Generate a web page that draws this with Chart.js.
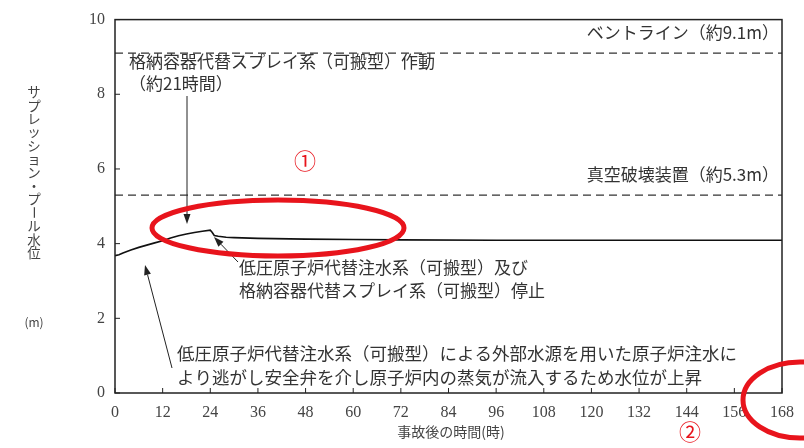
<!DOCTYPE html>
<html>
<head>
<meta charset="utf-8">
<script src="https://cdn.jsdelivr.net/npm/chart.js@4.4.1/dist/chart.umd.min.js"></script>
<style>
  html, body { margin: 0; padding: 0; background: #fff; }
  #wrap { width: 804px; height: 448px; }
</style>
</head>
<body>
<div id="wrap"><canvas id="myChart" width="804" height="448"></canvas></div>
<script>
// time after accident (h) and suppression pool level (m)
const hours = [0, 1, 2, 4, 6, 8, 10, 12, 14, 16, 18, 20, 22, 24, 24.5, 25, 26, 28, 30, 36, 48, 60, 72, 96, 120, 144, 168];
const poolLevel = [3.68, 3.70, 3.75, 3.83, 3.90, 3.96, 4.02, 4.08, 4.15, 4.21, 4.26, 4.30, 4.33, 4.36, 4.30, 4.22, 4.20, 4.17, 4.16, 4.14, 4.12, 4.11, 4.10, 4.09, 4.09, 4.09, 4.09];

// reference levels
const ventLine = 9.1;
const vacuumBreaker = 5.3;

const xTicks = [0, 12, 24, 36, 48, 60, 72, 84, 96, 108, 120, 132, 144, 156, 168];
const yTicks = [0, 2, 4, 6, 8, 10];

const jp = '"Noto Sans CJK JP", sans-serif';
const serif = "'Liberation Serif', 'DejaVu Serif', serif";
Chart.defaults.font.family = serif;

const arrow = (ctx, x1, y1, x2, y2) => {
    const a = Math.atan2(y2 - y1, x2 - x1);
    const len = 10, w = 3.5;
    ctx.beginPath();
    ctx.moveTo(x1, y1);
    ctx.lineTo(x2 - Math.cos(a) * len, y2 - Math.sin(a) * len);
    ctx.stroke();
    ctx.beginPath();
    ctx.moveTo(x2, y2);
    ctx.lineTo(x2 - Math.cos(a) * len - Math.sin(a) * w, y2 - Math.sin(a) * len + Math.cos(a) * w);
    ctx.lineTo(x2 - Math.cos(a) * len + Math.sin(a) * w, y2 - Math.sin(a) * len - Math.cos(a) * w);
    ctx.closePath();
    ctx.fill();
};

const decor = {
    id: 'decor',
    afterDraw: (chart) => {
        const ctx = chart.ctx;
        const a = chart.chartArea;
        const xs = chart.scales.x, ys = chart.scales.y;
        ctx.save();

        // frame and inward ticks
        ctx.strokeStyle = '#222';
        ctx.lineWidth = 1.5;
        ctx.strokeRect(a.left, a.top, a.right - a.left, a.bottom - a.top);
        ctx.lineWidth = 1;
        ctx.beginPath();
        xTicks.forEach(t => {
            const px = xs.getPixelForValue(t);
            ctx.moveTo(px, a.bottom); ctx.lineTo(px, a.bottom - 5);
        });
        yTicks.forEach(t => {
            const py = ys.getPixelForValue(t);
            ctx.moveTo(a.left, py); ctx.lineTo(a.left + 5, py);
        });
        ctx.stroke();

        // texts
        ctx.fillStyle = '#333';
        ctx.font = '17px ' + jp;
        ctx.textBaseline = 'middle';
        ctx.textAlign = 'right';
        ctx.fillText('ベントライン（約9.1m）', 779, 33);
        ctx.fillText('真空破壊装置（約5.3m）', 779, 175);
        ctx.textAlign = 'left';
        ctx.fillText('格納容器代替スプレイ系（可搬型）作動', 129, 62);
        ctx.fillText('（約21時間）', 129, 84);
        ctx.fillText('低圧原子炉代替注水系（可搬型）及び', 239, 268);
        ctx.fillText('格納容器代替スプレイ系（可搬型）停止', 239, 291);
        ctx.font = '17.5px ' + jp;
        ctx.fillText('低圧原子炉代替注水系（可搬型）による外部水源を用いた原子炉注水に', 177, 353);
        ctx.fillText('より逃がし安全弁を介し原子炉内の蒸気が流入するため水位が上昇', 177, 377);

        // axis titles
        ctx.font = '14px ' + jp;
        ctx.textAlign = 'center';
        ctx.fillStyle = '#444';
        ctx.fillText('事故後の時間(時)', 451, 432);
        const title = 'サプレッション・プール水位';
        ctx.font = '13.5px ' + jp;
        [...title].forEach((ch, i) => {
            const cy = 92 + i * 13.4;
            if (ch === 'ー') {
                ctx.save();
                ctx.translate(34, cy);
                ctx.rotate(Math.PI / 2);
                ctx.fillText(ch, 0, 0);
                ctx.restore();
            } else {
                ctx.fillText(ch, 34, cy);
            }
        });
        ctx.font = '12px ' + jp;
        ctx.fillText('(m)', 34, 322);

        // arrows
        ctx.strokeStyle = '#222';
        ctx.fillStyle = '#222';
        ctx.lineWidth = 1;
        arrow(ctx, 187, 96, 187, 224);
        arrow(ctx, 238, 262, 214, 237);
        arrow(ctx, 172, 368, 145, 265);

        // red marks
        ctx.strokeStyle = '#e8141c';
        ctx.lineWidth = 5;
        ctx.beginPath();
        ctx.ellipse(278, 228, 126, 28, 0, 0, Math.PI * 2);
        ctx.stroke();
        ctx.beginPath();
        ctx.ellipse(800, 400, 57, 38, 0, 0, Math.PI * 2);
        ctx.stroke();
        ctx.fillStyle = '#e8141c';
        ctx.font = '22px ' + jp;
        ctx.textAlign = 'center';
        ctx.fillText('①', 305, 161);
        ctx.fillText('②', 690, 432);
        ctx.restore();
    }
};

const buildChart = () => {
    const ctx = document.getElementById('myChart');
    return new Chart(ctx, {
        type: 'scatter',
        data: {
            datasets: [{
                label: 'level',
                data: hours.map((h, i) => ({ x: h, y: poolLevel[i] })),
                borderColor: '#111',
                borderWidth: 1.6,
                showLine: true,
                pointRadius: 0,
                tension: 0,
            }, {
                label: 'vent',
                data: [{ x: 0, y: ventLine }, { x: 168, y: ventLine }],
                borderColor: '#333',
                borderWidth: 1.2,
                borderDash: [8, 5],
                showLine: true,
                pointRadius: 0,
            }, {
                label: 'vacuum',
                data: [{ x: 0, y: vacuumBreaker }, { x: 168, y: vacuumBreaker }],
                borderColor: '#333',
                borderWidth: 1.2,
                borderDash: [8, 5],
                showLine: true,
                pointRadius: 0,
            }]
        },
        options: {
            responsive: false,
            animation: false,
            layout: { padding: { top: 12, right: 18, left: 0, bottom: 0 } },
            plugins: { legend: { display: false }, tooltip: { enabled: false } },
            scales: {
                x: {
                    type: 'linear',
                    min: 0,
                    max: 168,
                    afterBuildTicks: (s) => { s.ticks = xTicks.map(v => ({ value: v })); },
                    afterFit: (s) => { s.height = 55; },
                    grid: { display: false, drawTicks: false },
                    border: { display: false },
                    ticks: { color: '#444', padding: 10, maxRotation: 0, font: { family: serif, size: 16 } },
                },
                y: {
                    min: 0,
                    max: 10,
                    afterBuildTicks: (s) => { s.ticks = yTicks.map(v => ({ value: v })); },
                    afterFit: (s) => { s.width = 115; },
                    grid: { display: false, drawTicks: false },
                    border: { display: false },
                    ticks: { color: '#444', padding: 10, font: { family: serif, size: 16 } },
                }
            }
        },
        plugins: [decor]
    });
};

buildChart();
</script>
</body>
</html>
